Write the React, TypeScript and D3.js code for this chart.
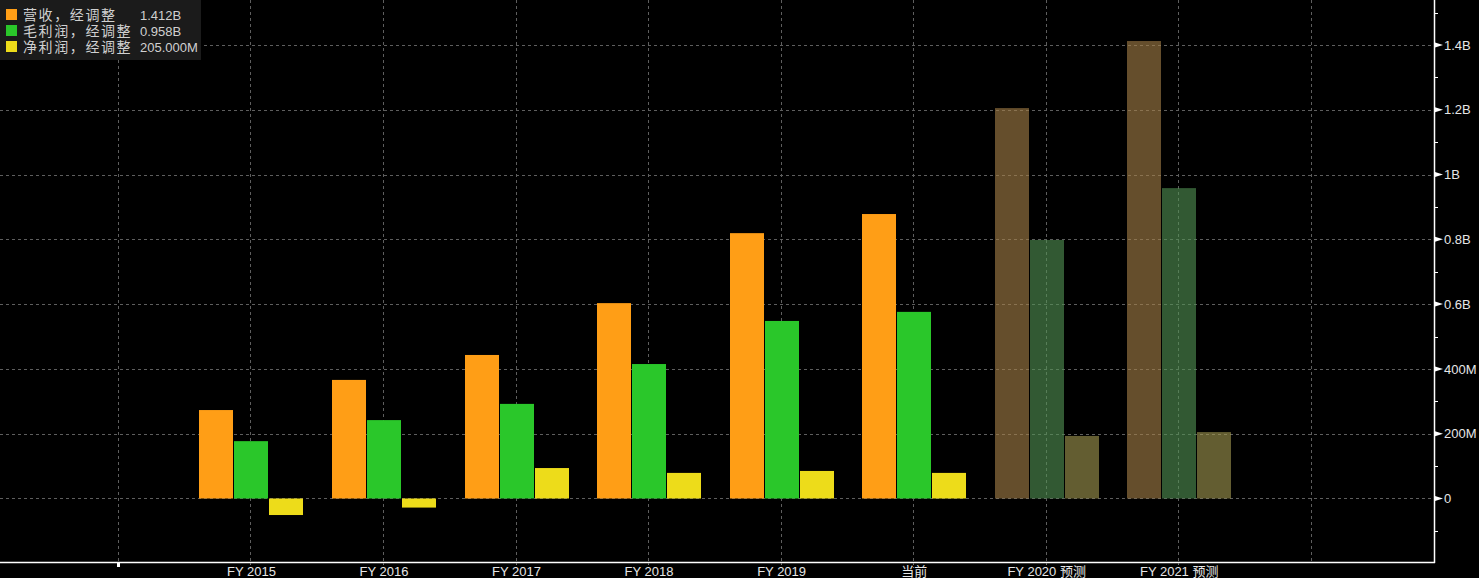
import React from "react";
import * as d3 from "d3";

const categories = ["FY 2015", "FY 2016", "FY 2017", "FY 2018", "FY 2019", "当前", "FY 2020 预测", "FY 2021 预测"];
const isForecast = [false, false, false, false, false, false, true, true];
const revenue = [0.273e9, 0.366e9, 0.443e9, 0.603e9, 0.819e9, 0.878e9, 1.205e9, 1.412e9];
const grossProfit = [0.177e9, 0.242e9, 0.292e9, 0.415e9, 0.548e9, 0.576e9, 0.798e9, 0.958e9];
const netIncome = [-0.051e9, -0.028e9, 0.094e9, 0.079e9, 0.085e9, 0.079e9, 0.193e9, 0.205e9];
const seriesNames = ["营收，经调整", "毛利润，经调整", "净利润，经调整"];
const seriesLast = ["1.412B", "0.958B", "205.000M"];
const majorTicks = [0, 0.2e9, 0.4e9, 0.6e9, 0.8e9, 1.0e9, 1.2e9, 1.4e9];
const majorTickLabels = ["0", "200M", "400M", "0.6B", "0.8B", "1B", "1.2B", "1.4B"];
const minorTicks = [-0.1e9, 0.1e9, 0.3e9, 0.5e9, 0.7e9, 0.9e9, 1.1e9, 1.3e9, 1.5e9];

const W = 1479;
const H = 578;
const axisX = 1434;
const axisY = 562;

const colors = ["#ff9e16", "#2ac72a", "#eddc1a"];
const forecastColors = ["#a8824a", "#539455", "#a59b52"];
const FONT = "'Liberation Sans', 'Noto Sans CJK SC', sans-serif";

export default function App() {
  const y = d3.scaleLinear().domain([-0.196e9, 1.5386e9]).range([axisY, 0]);
  const x = d3.scaleLinear().domain([-1.89, 8.93]).range([0, axisX]);
  const series = [revenue, grossProfit, netIncome];
  const barW = 34;
  const step = 35;
  const gridIdx = d3.range(-1, 9);
  return (
    <svg width={W} height={H} style={{ position: "fixed", left: 0, top: 0, background: "#000" }}>
      <rect x={0} y={0} width={W} height={H} fill="#000" />
      {majorTicks.map((t, i) => (
        <line key={"hg" + i} x1={0} x2={axisX} y1={Math.round(y(t)) + 0.5} y2={Math.round(y(t)) + 0.5}
          stroke="#5e5e5e" strokeWidth={1} strokeDasharray="3,3" />
      ))}
      {gridIdx.map((g) => (
        <line key={"vg" + g} x1={Math.round(x(g)) + 0.5} x2={Math.round(x(g)) + 0.5} y1={0} y2={axisY}
          stroke="#5e5e5e" strokeWidth={1} strokeDasharray="3,3" />
      ))}
      {categories.map((c, ci) =>
        series.map((s, si) => {
          const v = s[ci];
          const cx = x(ci) + 1 + (si - 1) * step;
          const y0 = y(0);
          const yv = y(v);
          return (
            <rect key={c + si} x={Math.round(cx - barW / 2)} width={barW}
              y={Math.min(y0, yv)} height={Math.abs(y0 - yv)}
              fill={isForecast[ci] ? forecastColors[si] : colors[si]}
              fillOpacity={isForecast[ci] ? 0.6 : 1} />
          );
        })
      )}
      <line x1={axisX + 0.5} x2={axisX + 0.5} y1={0} y2={axisY + 1} stroke="#fff" strokeWidth={1.5} />
      <line x1={0} x2={axisX + 1} y1={axisY + 0.5} y2={axisY + 0.5} stroke="#fff" strokeWidth={1.5} />
      {minorTicks.map((t, i) => (
        <line key={"mt" + i} x1={axisX} x2={axisX + 4} y1={Math.round(y(t)) + 0.5} y2={Math.round(y(t)) + 0.5}
          stroke="#fff" strokeWidth={1} />
      ))}
      {majorTicks.map((t, i) => {
        const ty = y(t);
        return (
          <g key={"mj" + i}>
            <path d={`M${axisX + 1},${ty - 2.5} L${axisX + 9},${ty} L${axisX + 1},${ty + 2.5} Z`} fill="#fff" />
            <text x={axisX + 10} y={ty} dy="0.36em" fill="#e6e6e6" fontSize={13} fontFamily={FONT}>
              {majorTickLabels[i]}
            </text>
          </g>
        );
      })}
      {categories.map((c, ci) => (
        <g key={"xl" + ci}>
          <line x1={Math.round(x(ci)) + 0.5} x2={Math.round(x(ci)) + 0.5} y1={axisY + 1} y2={axisY + 6} stroke="#777" strokeDasharray="2,2" />
          <text x={x(ci) + 1} y={576} textAnchor="middle" fill="#e6e6e6" fontSize={13} fontFamily={FONT}>
            {c}
          </text>
        </g>
      ))}
      <rect x={Math.round(x(-1)) - 1} y={axisY + 1} width={3} height={4} fill="#fff" />
      <rect x={0} y={0} width={201} height={60} fill="#1b1b1b" />
      {seriesNames.map((n, i) => (
        <g key={"lg" + i}>
          <rect x={6} y={9 + i * 16} width={11} height={11} fill={colors[i]} />
          <text x={23} y={20 + i * 16} fill="#d0d0d0" fontSize={14} fontFamily={FONT} letterSpacing={1.6}>
            {n}
          </text>
          <text x={140} y={20 + i * 16} fill="#d0d0d0" fontSize={13} fontFamily={FONT}>
            {seriesLast[i]}
          </text>
        </g>
      ))}
    </svg>
  );
}
